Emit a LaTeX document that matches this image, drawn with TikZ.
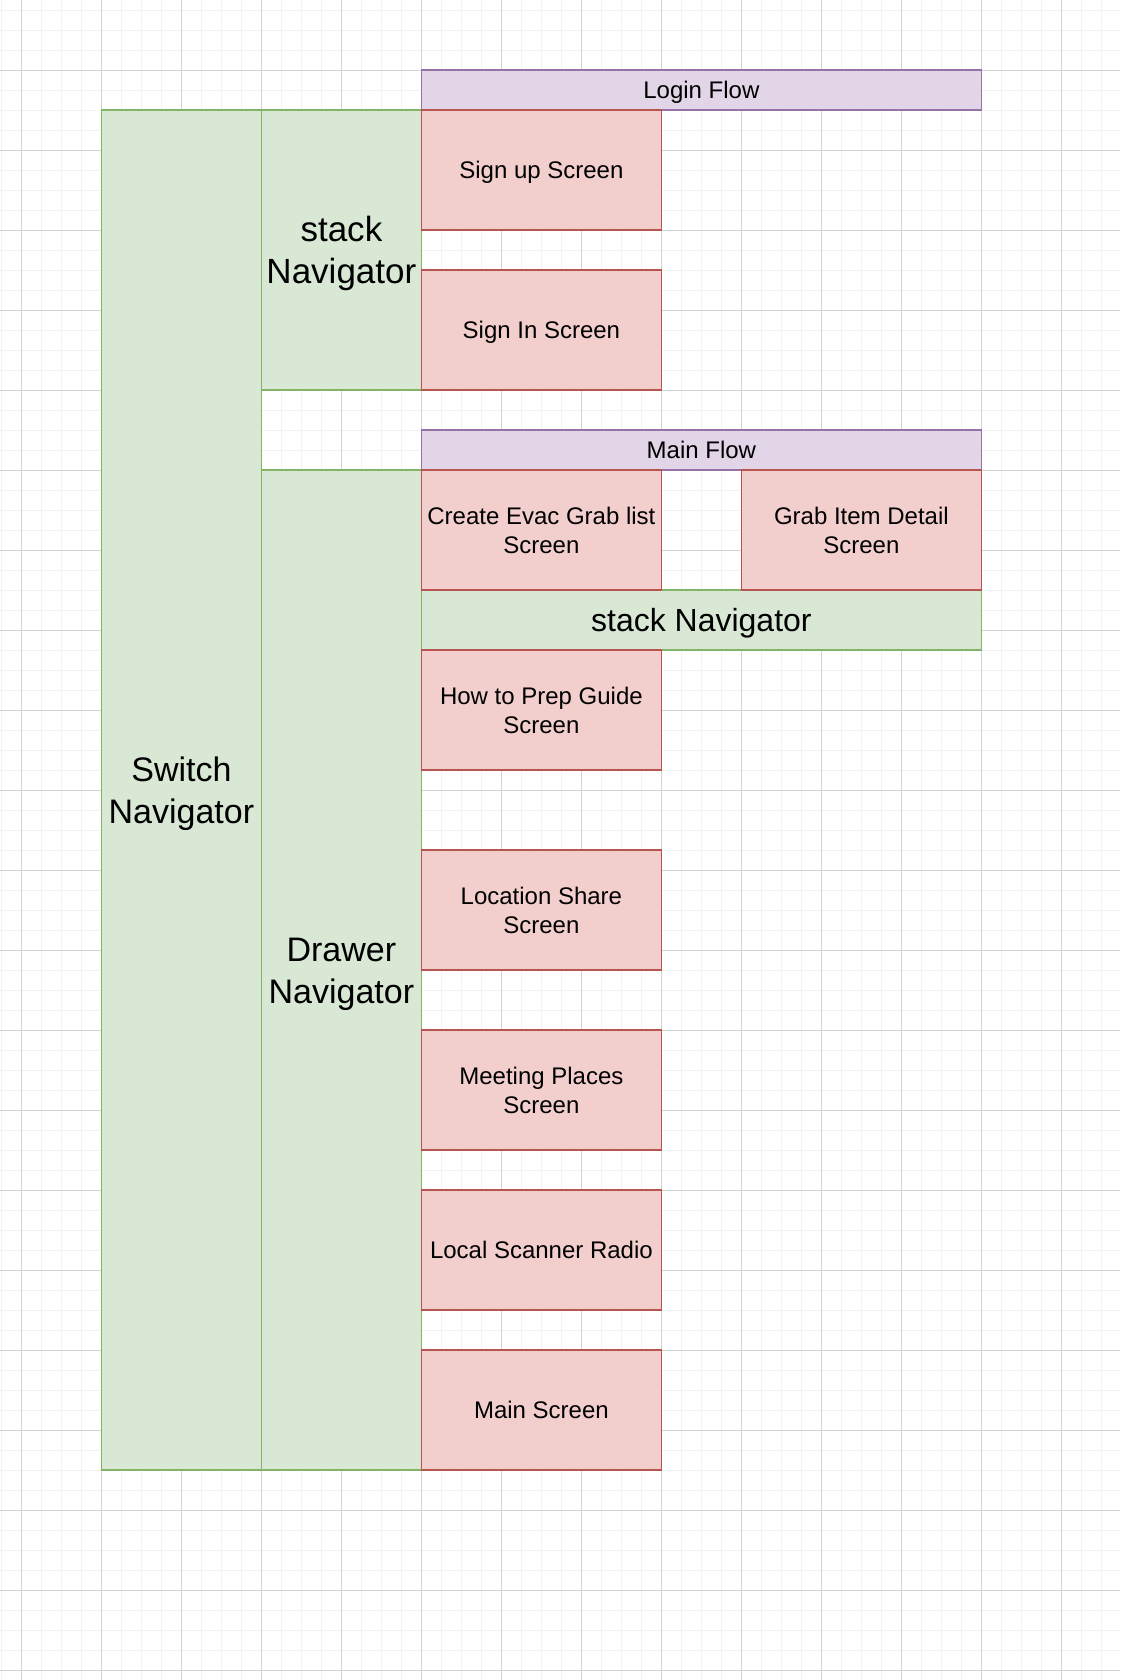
\documentclass[tikz,border=0pt]{standalone}
\usepackage{fontspec}
\setmainfont{Liberation Sans}
\usetikzlibrary{positioning}
\usepackage{xcolor}

\definecolor{navfill}{HTML}{D9E7D5}
\definecolor{navdraw}{HTML}{82B366}
\definecolor{screenfill}{HTML}{F2CFCD}
\definecolor{screendraw}{HTML}{B85450}
\definecolor{flowfill}{HTML}{E1D5E7}
\definecolor{flowdraw}{HTML}{9673A6}
\definecolor{minorgrid}{HTML}{F2F2F2}
\definecolor{majorgrid}{HTML}{D3D3D3}

\newcommand{\navfont}{\fontsize{22.76pt}{27.3pt}\selectfont}
\newcommand{\bignavfont}{\fontsize{24.18pt}{29.0pt}\selectfont}
\newcommand{\hugenavfont}{\fontsize{24.9pt}{29.9pt}\selectfont}
\newcommand{\screenfont}{\fontsize{17.07pt}{20.5pt}\selectfont}
\newcommand{\linestrut}{\rule[-0.25em]{0pt}{1.2em}}
% two-line label with struts in first and last line
\newcommand{\twolines}[2]{\linestrut#1\\#2\linestrut}

\begin{document}
\begin{tikzpicture}[
    x=5mm, y=-5mm,
    minor line/.style={draw=minorgrid, line width=0.25mm},
    major line/.style={draw=majorgrid, line width=0.25mm},
    box/.style={rectangle, line width=0.45mm, inner sep=0pt, align=center},
    one line/.style={execute at begin node=\linestrut, execute at end node=\linestrut},
    nav node/.style={box, fill=navfill, draw=navdraw, font=\bignavfont},
    flow node/.style={box, one line, fill=flowfill, draw=flowdraw, font=\screenfont, minimum width=14cm, minimum height=1cm},
    screen node/.style={box, fill=screenfill, draw=screendraw, font=\screenfont, minimum width=6cm, minimum height=3cm}
]
    % Background grid
    \useasboundingbox (-1.07,-3.515) rectangle (54.93,80.485);
    \fill[white] (-1.07,-3.515) rectangle (54.93,80.485);
    \foreach \gx in {-1,...,54}
        \draw[minor line] (\gx,-3.515) -- (\gx,80.485);
    \foreach \gy in {-3,...,80}
        \draw[minor line] (-1.07,\gy) -- (54.93,\gy);
    \foreach \gx in {0,4,...,52}
        \draw[major line] (\gx,-3.515) -- (\gx,80.485);
    \foreach \gy in {0,4,...,80}
        \draw[major line] (-1.07,\gy) -- (54.93,\gy);

    % Navigators
    \node[nav node, minimum width=4cm, minimum height=34cm] (switch) at (8,36) {\twolines{Switch}{Navigator}};
    \node[nav node, font=\hugenavfont, minimum width=4cm, minimum height=7cm] (loginstack) at (16,9) {\twolines{stack}{Navigator}};
    \node[nav node, minimum width=4cm, minimum height=25cm] (drawer) at (16,45) {\twolines{Drawer}{Navigator}};
    \node[nav node, one line, font=\navfont, minimum width=14cm, minimum height=1.5cm] (mainstack) at (34,27.5) {stack Navigator};

    % Flows
    \node[flow node] (loginflow) at (34,1) {Login Flow};
    \node[flow node] (mainflow) at (34,19) {Main Flow};

    % Screens
    \node[screen node, one line] (signup) at (26,5) {Sign up Screen};
    \node[screen node, one line] (signin) at (26,13) {Sign In Screen};
    \node[screen node] (grablist) at (26,23) {\twolines{Create Evac Grab list}{Screen}};
    \node[screen node] (grabitem) at (42,23) {\twolines{Grab Item Detail}{Screen}};
    \node[screen node] (prepguide) at (26,32) {\twolines{How to Prep Guide}{Screen}};
    \node[screen node] (locshare) at (26,42) {\twolines{Location Share}{Screen}};
    \node[screen node] (meeting) at (26,51) {\twolines{Meeting Places}{Screen}};
    \node[screen node, one line] (scanner) at (26,59) {Local Scanner Radio};
    \node[screen node, one line] (mainscreen) at (26,67) {Main Screen};
\end{tikzpicture}
\end{document}
